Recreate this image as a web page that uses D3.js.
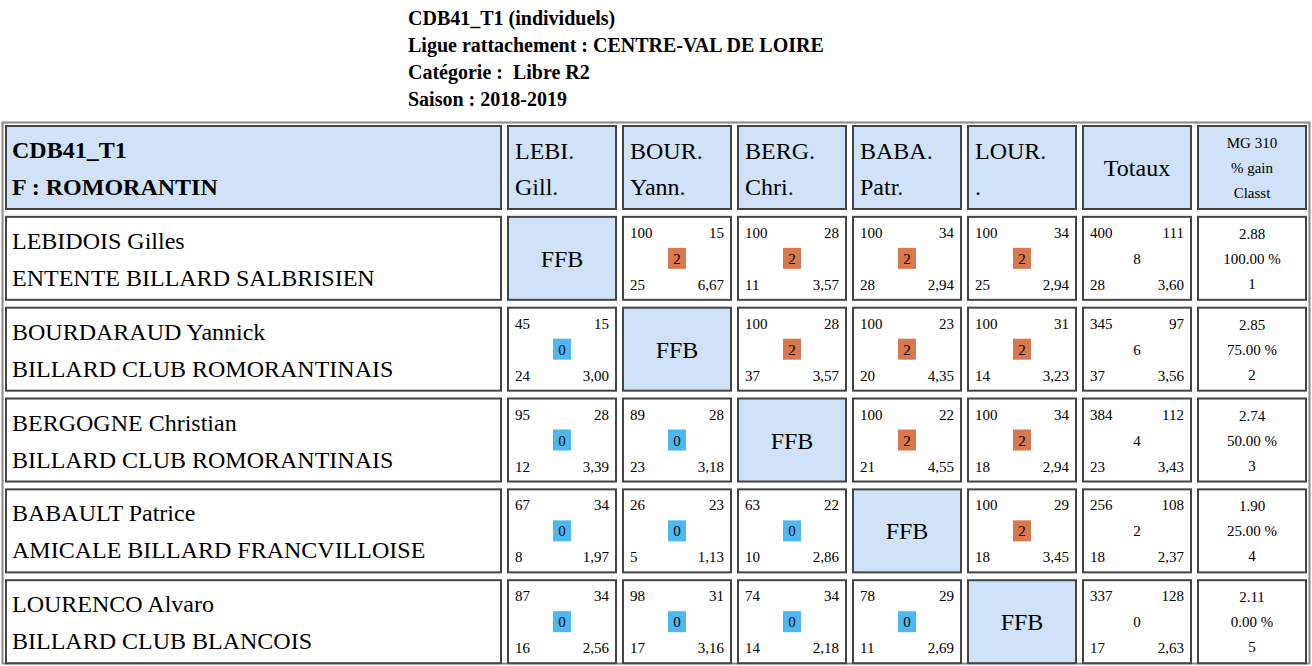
<!DOCTYPE html><html><head><meta charset="utf-8">
<script src="https://d3js.org/d3.v7.min.js"></script>
<style>body{margin:0;background:#fff} text{font-family:'Liberation Serif','Times New Roman',Times,serif;white-space:pre}</style></head><body><svg id="c" width="1312" height="666"></svg>
<script>
const titleLines=["CDB41_T1 (individuels)","Ligue rattachement : CENTRE-VAL DE LOIRE","Catégorie :  Libre R2","Saison : 2018-2019"];
const players=["LEBIDOIS Gilles","BOURDARAUD Yannick","BERGOGNE Christian","BABAULT Patrice","LOURENCO Alvaro"];
const clubs=["ENTENTE BILLARD SALBRISIEN","BILLARD CLUB ROMORANTINAIS","BILLARD CLUB ROMORANTINAIS","AMICALE BILLARD FRANCVILLOISE","BILLARD CLUB BLANCOIS"];
const abbr1=["LEBI.","BOUR.","BERG.","BABA.","LOUR."];
const abbr2=["Gill.","Yann.","Chri.","Patr.","."];
// [points, reprises, pts match, innings, moyenne]
const matches=[
 [null,[100,15,2,25,"6,67"],[100,28,2,11,"3,57"],[100,34,2,28,"2,94"],[100,34,2,25,"2,94"]],
 [[45,15,0,24,"3,00"],null,[100,28,2,37,"3,57"],[100,23,2,20,"4,35"],[100,31,2,14,"3,23"]],
 [[95,28,0,12,"3,39"],[89,28,0,23,"3,18"],null,[100,22,2,21,"4,55"],[100,34,2,18,"2,94"]],
 [[67,34,0,8,"1,97"],[26,23,0,5,"1,13"],[63,22,0,10,"2,86"],null,[100,29,2,18,"3,45"]],
 [[87,34,0,16,"2,56"],[98,31,0,17,"3,16"],[74,34,0,14,"2,18"],[78,29,0,11,"2,69"],null]];
const totals=[[400,111,8,28,"3,60"],[345,97,6,37,"3,56"],[384,112,4,23,"3,43"],[256,108,2,18,"2,37"],[337,128,0,17,"2,63"]];
const mg=["2.88","2.85","2.74","1.90","2.11"];
const gain=["100.00 %","75.00 %","50.00 %","25.00 %","0.00 %"];
const classt=["1","2","3","4","5"];

const svg=d3.select("#c");
const hb="#cfe2f8";
svg.selectAll("text.t").data(titleLines).join("text").attr("x",408).attr("y",(d,i)=>25+i*27)
 .attr("font-weight","bold").attr("font-size",20).text(d=>d);
svg.append("rect").attr("x",2.5).attr("y",122.5).attr("width",1307).attr("height",541).attr("fill","none").attr("stroke","#888").attr("stroke-width",2);
const colX=[5,507,622,737,852,967,1082,1197], colW=[497,110,110,110,110,110,110,110];
const y=d3.scaleBand().domain(d3.range(6)).range([125,665]).paddingInner(5/90).paddingOuter(0);
const rh=85;
function cell(x,yy,w,fill){svg.append("rect").attr("x",x+1).attr("y",yy+1).attr("width",w-2).attr("height",rh-2).attr("fill",fill).attr("stroke","#444").attr("stroke-width",2);}
function txt(x,yy,s,size,anchor,bold){svg.append("text").attr("x",x).attr("y",yy).attr("font-size",size).attr("text-anchor",anchor||"start").attr("font-weight",bold?"bold":"normal").text(s);}
const y0=y(0);
cell(colX[0],y0,colW[0],hb);txt(12,y0+33,"CDB41_T1",24,"start",true);txt(12,y0+70,"F : ROMORANTIN",24,"start",true);
for(let j=0;j<5;j++){cell(colX[j+1],y0,110,hb);txt(colX[j+1]+8,y0+34,abbr1[j],24);txt(colX[j+1]+8,y0+70,abbr2[j],24);}
cell(colX[6],y0,110,hb);txt(colX[6]+55,y0+51,"Totaux",24,"middle");
cell(colX[7],y0,110,hb);["MG 310","% gain","Classt"].forEach((s,k)=>txt(colX[7]+55,y0+23+k*25,s,15,"middle"));
function stats(x,yy,m,badge){
 txt(x+8,yy+22,m[0],15);txt(x+102,yy+22,m[1],15,"end");
 if(badge){const c=m[2]>0?"#d9784f":"#4db8f0";svg.append("rect").attr("x",x+46).attr("y",yy+32).attr("width",18).attr("height",21).attr("fill",c);}
 txt(x+55,yy+48,m[2],15,"middle");
 txt(x+8,yy+74,m[3],15);txt(x+102,yy+74,m[4],15,"end");
}
players.forEach((p,i)=>{
 const yy=y(i+1);
 cell(colX[0],yy,colW[0],"#fff");txt(12,yy+33,p,24);txt(12,yy+70,clubs[i],24);
 for(let j=0;j<5;j++){const m=matches[i][j];
  if(m===null){cell(colX[j+1],yy,110,hb);txt(colX[j+1]+55,yy+51,"FFB",24,"middle");}
  else{cell(colX[j+1],yy,110,"#fff");stats(colX[j+1],yy,m,true);}}
 cell(colX[6],yy,110,"#fff");stats(colX[6],yy,totals[i],false);
 cell(colX[7],yy,110,"#fff");[mg[i],gain[i],classt[i]].forEach((s,k)=>txt(colX[7]+55,yy+23+k*25,s,15,"middle"));
});
</script></body></html>
